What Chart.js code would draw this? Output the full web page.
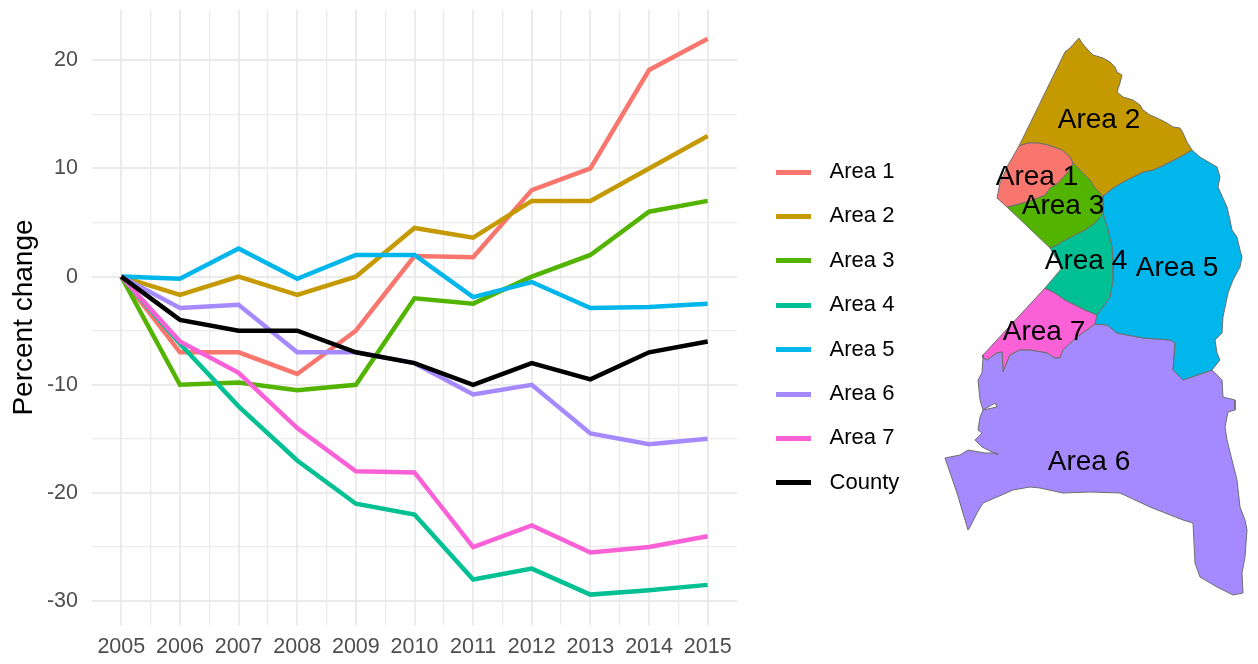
<!DOCTYPE html>
<html><head><meta charset="utf-8">
<script src="https://cdn.jsdelivr.net/npm/chart.js@4.4.1/dist/chart.umd.min.js"></script>
<style>
html,body{margin:0;padding:0;background:#fff;width:1258px;height:664px;overflow:hidden}
#line{position:absolute;left:0;top:0}
#map{position:absolute;left:880px;top:0}
</style></head><body>
<canvas id="line" width="937" height="664"></canvas>
<canvas id="map" width="378" height="664"></canvas>
<script>
// ---------- line chart data ----------
const years = [2005, 2006, 2007, 2008, 2009, 2010, 2011, 2012, 2013, 2014, 2015];
const seriesNames = ['Area 1', 'Area 2', 'Area 3', 'Area 4', 'Area 5', 'Area 6', 'Area 7', 'County'];
const area1 = [0, -7, -7, -9, -5, 1.9, 1.8, 8, 10, 19.1, 22];
const area2 = [0, -1.7, 0, -1.7, 0, 4.5, 3.6, 7, 7, 10, 13];
const area3 = [0, -10, -9.8, -10.5, -10, -2, -2.5, 0, 2, 6, 7];
const area4 = [0, -6.2, -12, -17, -21, -22, -28, -27, -29.4, -29, -28.5];
const area5 = [0, -0.2, 2.6, -0.2, 2, 2, -1.9, -0.5, -2.9, -2.8, -2.5];
const area6 = [0, -2.9, -2.6, -7, -7, -8, -10.9, -10, -14.5, -15.5, -15];
const area7 = [0, -6, -8.9, -14, -18, -18.1, -25, -23, -25.5, -25, -24];
const county = [0, -4, -5, -5, -7, -8, -10, -8, -9.5, -7, -6];
const yGridValues = [-30, -25, -20, -15, -10, -5, 0, 5, 10, 15, 20];
const yLabelValues = [-30, -20, -10, 0, 10, 20];

// ---------- map data (projected units, east / north) ----------
const mapNames = ['Area 1', 'Area 2', 'Area 3', 'Area 4', 'Area 5', 'Area 6', 'Area 7'];
const poly1 = [[79,474],[88,477],[98,477],[108,475],[122,470],[130,463],[133,457],[128,448],[118,437],[110,432],[105,425],[90,419],[75,415],[67,413],[57,422],[60,437],[68,455],[79,474]];
const poly2 = [[79,474],[125,568],[130,572],[139,582],[142,577],[148,570],[153,565],[163,562],[170,558],[175,553],[177,548],[182,545],[180,537],[177,528],[183,523],[193,520],[200,515],[203,510],[210,505],[217,502],[227,497],[233,493],[240,492],[243,487],[247,478],[252,470],[240,463],[230,458],[220,453],[213,450],[203,448],[193,443],[183,438],[173,432],[163,424],[155,432],[150,440],[142,448],[133,457],[130,463],[122,470],[108,475],[98,477],[88,477],[79,474]];
const poly3 = [[133,457],[142,448],[150,440],[155,432],[163,424],[163,407],[155,397],[145,390],[135,385],[125,380],[117,375],[110,372],[67,413],[75,415],[90,419],[105,425],[110,432],[118,437],[128,448],[133,457]];
const poly4 = [[163,407],[168,390],[172,373],[173,357],[173,340],[170,323],[163,313],[157,305],[145,310],[135,315],[125,320],[115,327],[105,332],[122,352],[110,372],[117,375],[125,380],[135,385],[145,390],[155,397],[163,407]];
const poly5 = [[252,470],[260,463],[277,453],[280,443],[278,433],[287,413],[290,400],[292,390],[297,383],[300,370],[302,363],[300,353],[293,340],[288,327],[283,303],[282,287],[275,280],[277,267],[280,260],[272,250],[243,240],[233,250],[235,277],[230,280],[203,282],[177,287],[167,295],[155,296],[157,305],[163,313],[170,323],[173,340],[173,357],[172,373],[168,390],[163,407],[163,424],[173,432],[183,438],[193,443],[203,448],[213,450],[220,453],[230,458],[240,463],[252,470]];
const poly6 = [[43,265],[43,262],[47,260],[57,267],[62,268],[63,248],[70,265],[80,270],[90,270],[107,267],[115,262],[120,262],[123,270],[137,283],[147,290],[155,296],[167,295],[177,287],[203,282],[230,280],[235,277],[233,250],[243,240],[272,250],[282,240],[283,223],[295,220],[295,210],[288,208],[285,193],[287,180],[292,160],[297,140],[300,113],[305,100],[307,90],[305,63],[302,47],[303,27],[293,25],[277,33],[260,43],[255,57],[253,97],[243,100],[210,113],[180,127],[150,128],[123,127],[100,132],[90,133],[73,130],[57,123],[43,117],[37,107],[30,93],[28,90],[17,127],[5,162],[20,165],[28,170],[45,167],[57,167],[58,165],[42,173],[35,180],[42,187],[38,190],[40,203],[43,210],[57,213],[55,217],[43,210],[40,220],[38,240],[42,247],[43,262],[43,265]];
const poly7 = [[105,332],[115,327],[125,320],[135,315],[145,310],[157,305],[155,296],[147,290],[137,283],[123,270],[120,262],[115,262],[107,267],[90,270],[80,270],[70,265],[63,248],[62,268],[57,267],[47,260],[43,262],[43,265],[105,332]];
const mapLabelEast = [97, 159, 123, 146, 237, 149, 104];
const mapLabelNorth = [443, 500, 414, 359, 352, 158, 288];

// ---------- styles ----------
const seriesColors = ['#F8766D', '#C49A00', '#53B400', '#00C094', '#00B6EB', '#A58AFF', '#FB61D7', '#000000'];
const FONT = '"Liberation Sans", Arial, Helvetica, sans-serif';

const seriesValues = [area1, area2, area3, area4, area5, area6, area7, county];
const xGridValues = years.flatMap((y, i) => i < years.length - 1 ? [y, y + 0.5] : [y]);

function swatch(color) {
  const c = document.createElement('canvas');
  c.width = 44; c.height = 5;
  const g = c.getContext('2d');
  g.fillStyle = color;
  g.fillRect(9, 0, 35, 5);
  return c;
}
const swatches = seriesColors.map(swatch);

const lineChart = new Chart(document.getElementById('line'), {
  type: 'line',
  data: {
    datasets: seriesNames.map((name, i) => ({
      label: name,
      data: years.map((yr, j) => ({x: yr, y: seriesValues[i][j]})),
      borderColor: seriesColors[i],
      backgroundColor: seriesColors[i],
      borderWidth: 4.5,
      pointRadius: 0,
      tension: 0,
      fill: false,
      order: seriesNames.length - 1 - i
    }))
  },
  options: {
    responsive: false,
    animation: false,
    layout: {padding: {top: 10, left: 0, right: 0, bottom: 0}},
    plugins: {
      tooltip: {enabled: false},
      legend: {
        position: 'right',
        align: 'start',
        title: {display: true, text: '', font: {size: 1, lineHeight: 1}, padding: {top: 127.6, bottom: 0}},
        labels: {
          usePointStyle: true,
          pointStyleWidth: 59.2,
          padding: 22.4,
          color: '#000',
          font: {size: 22, family: FONT},
          sort: (a, b) => a.datasetIndex - b.datasetIndex,
          generateLabels(chart) {
            const items = Chart.defaults.plugins.legend.labels.generateLabels(chart);
            items.forEach(it => { it.pointStyle = swatches[it.datasetIndex]; });
            return items;
          }
        }
      }
    },
    scales: {
      x: {
        type: 'linear',
        min: 2004.5,
        max: 2015.5,
        afterBuildTicks: (axis) => { axis.ticks = xGridValues.map(v => ({value: v})); },
        afterFit: (s) => { s.height = 39; s.paddingLeft = 0; s.paddingRight = 0; },
        ticks: {
          autoSkip: false, maxRotation: 0, minRotation: 0, padding: 9,
          color: '#4D4D4D', font: {size: 21.5, family: FONT},
          callback: (v) => Number.isInteger(v) ? String(v) : ''
        },
        grid: {
          drawTicks: false,
          color: '#EBEBEB',
          lineWidth: (c) => (c.tick && Number.isInteger(c.tick.value)) ? 2 : 1.3
        },
        border: {display: false}
      },
      y: {
        type: 'linear',
        min: -32.21,
        max: 24.65,
        afterBuildTicks: (axis) => { axis.ticks = yGridValues.map(v => ({value: v})); },
        afterFit: (s) => { s.width = 92; s.paddingTop = 0; s.paddingBottom = 0; },
        ticks: {
          padding: 14, color: '#4D4D4D', font: {size: 21.5, family: FONT},
          callback: (v) => yLabelValues.includes(v) ? String(v) : ''
        },
        grid: {
          drawTicks: false,
          color: '#EBEBEB',
          lineWidth: (c) => (c.tick && yLabelValues.includes(c.tick.value)) ? 2 : 1.3
        },
        border: {display: false},
        title: {display: true, text: 'Percent change', color: '#000', font: {size: 28, family: FONT}, padding: {top: 7, bottom: 0}}
      }
    }
  }
});
// give the legend column a fixed width so the plot panel ends where the reference's does
const legendFit = lineChart.legend.fit;
lineChart.legend.fit = function () { legendFit.call(this); this.width = 200; };
lineChart.update();

// ---------- map ----------
const polys = [poly1, poly2, poly3, poly4, poly5, poly6, poly7];
const mapColors = seriesColors.slice(0, 7);
const mapLabelPlugin = {
  id: 'mapLabels',
  afterDatasetsDraw(chart) {
    const {ctx, scales: {x, y}} = chart;
    ctx.save();
    ctx.font = '28px ' + FONT;
    ctx.fillStyle = '#000';
    ctx.textAlign = 'center';
    ctx.textBaseline = 'middle';
    mapNames.forEach((n, i) => {
      ctx.fillText(n, x.getPixelForValue(mapLabelEast[i]), y.getPixelForValue(mapLabelNorth[i]));
    });
    ctx.restore();
  }
};
new Chart(document.getElementById('map'), {
  type: 'scatter',
  data: {
    datasets: polys.map((p, i) => ({
      label: mapNames[i],
      data: p.map(([e, n]) => ({x: e, y: n})),
      showLine: true,
      fill: 'shape',
      backgroundColor: mapColors[i],
      borderColor: '#6E6E6E',
      borderWidth: 1,
      pointRadius: 0,
      tension: 0
    }))
  },
  options: {
    responsive: false,
    animation: false,
    layout: {padding: 0},
    plugins: {legend: {display: false}, tooltip: {enabled: false}},
    scales: {
      x: {type: 'linear', display: false, min: -60, max: 318},
      y: {type: 'linear', display: false, min: -44, max: 620}
    }
  },
  plugins: [mapLabelPlugin]
});
</script>
</body></html>
